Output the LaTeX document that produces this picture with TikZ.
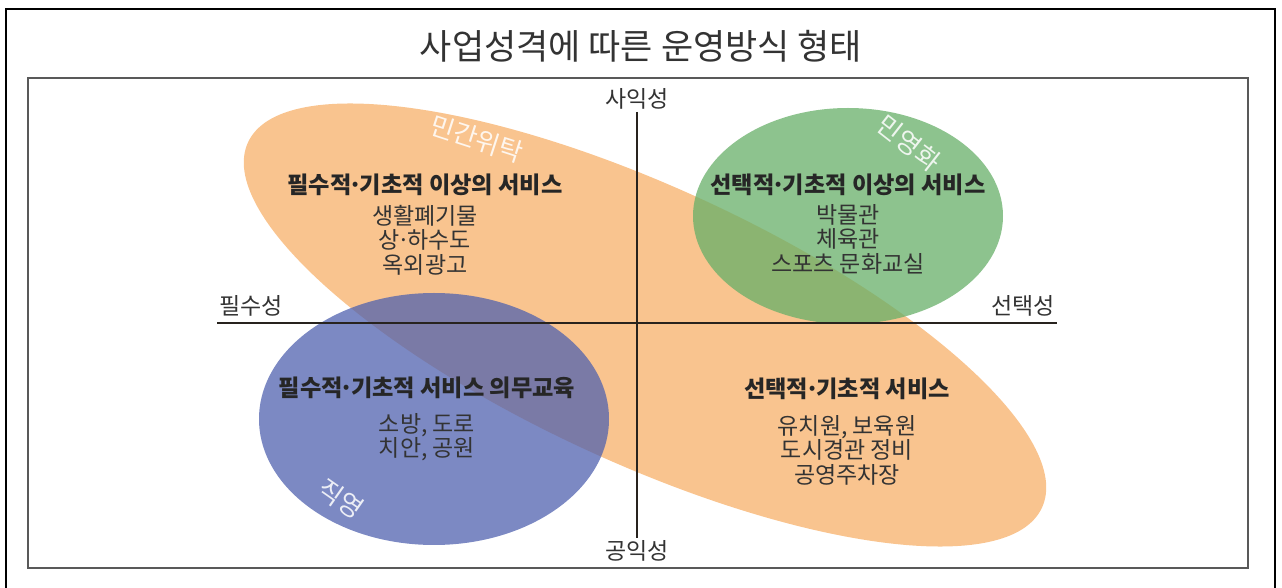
\documentclass[tikz,border=0pt]{standalone}
\usepackage{fontspec}
\setmainfont{Noto Sans CJK KR}
\usetikzlibrary{shapes.geometric,positioning}
\definecolor{orangearea}{RGB}{249,196,143}
\definecolor{bluearea}{RGB}{80,98,175}
\definecolor{greenarea}{RGB}{103,175,104}
\definecolor{axisline}{RGB}{40,35,30}
\newcommand{\mdot}{\kern-0.12em·\kern-0.12em}

\begin{document}
\begin{tikzpicture}[
    x=0.5pt, y=-0.5pt,
    area/.style={ellipse, inner sep=0pt, outer sep=0pt},
    heading/.style={font=\fontsize{11.6}{13}\selectfont\bfseries, text=black!85},
    items/.style={font=\fontsize{11.5}{12.25}\selectfont, text=black!80, align=center},
    axislabel/.style={font=\fontsize{11.5}{12}\selectfont, text=black!80, inner sep=1pt},
    tag/.style={font=\fontsize{13}{15}\selectfont, text=white, text opacity=0.85},
    axis/.style={line width=1pt, draw=axisline}
]
\useasboundingbox (0,0) rectangle (1282,588);

% Frames
\draw[line width=1pt] (6,9) rectangle (1275,620);
\draw[line width=1.2pt, black!65] (28,78) rectangle (1248,568);

% Title
\node[font=\fontsize{17.5}{20}\selectfont, text=black!80] (title) at (641,46) {사업성격에 따른 운영방식 형태};

% Areas
\node[area, fill=orangearea, minimum width=437pt, minimum height=138pt, rotate=-24.7] (minkan) at (645,325) {};
\node[area, fill=bluearea, fill opacity=0.75, minimum width=175pt, minimum height=126pt] (jikyeong) at (434,419) {};
\node[area, fill=greenarea, fill opacity=0.75, minimum width=155pt, minimum height=108pt] (minyeong) at (848,216) {};

% Axes
\node[axislabel] (saik) at (637,99) {사익성};
\node[axislabel] (gongik) at (637,551) {공익성};
\draw[axis] (saik.south) -- (gongik.north);
\coordinate (west) at (217,323);
\coordinate (east) at (1057,323);
\draw[axis] (west) -- (east);
\node[axislabel, above right=2pt and 0pt of west] (pilsu) {필수성};
\node[axislabel, above left=2pt and 0pt of east] (seontaek) {선택성};

% Quadrant texts
\node[heading] (h1) at (425,185) {필수적\mdot 기초적 이상의 서비스};
\node[items] (i1) at (425,240) {생활폐기물\\상\mdot 하수도\\옥외광고};
\node[heading] (h2) at (848,185) {선택적\mdot 기초적 이상의 서비스};
\node[items] (i2) at (848,239) {박물관\\체육관\\스포츠 문화교실};
\node[heading] (h3) at (427,388) {필수적\mdot 기초적 서비스 의무교육};
\node[items] (i3) at (427,437) {소방, 도로\\치안, 공원};
\node[heading] (h4) at (847,389) {선택적\mdot 기초적 서비스};
\node[items] (i4) at (847,450) {유치원, 보육원\\도시경관 정비\\공영주차장};

% Area tags
\node[tag, rotate=-18] (t1) at (477,139) {민간위탁};
\node[tag, rotate=-38] (t2) at (909,143) {민영화};
\node[tag, rotate=-35] (t3) at (341,499) {직영};

\end{tikzpicture}
\end{document}
